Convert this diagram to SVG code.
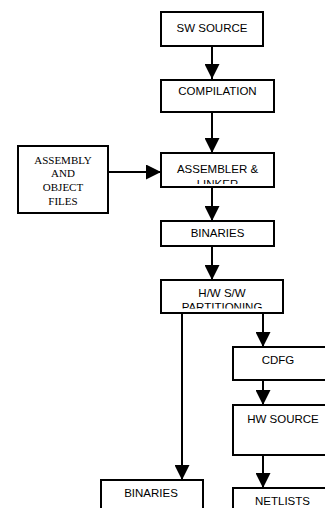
<svg xmlns="http://www.w3.org/2000/svg" width="325" height="508" viewBox="0 0 325 508">
  <style>
    .box { fill: #fff; stroke: #000; stroke-width: 2; }
    .lbl { font-family: "Liberation Sans", Arial, sans-serif; font-size: 11.5px; fill: #000; text-anchor: middle; }
    .serif { font-family: "Liberation Serif", "Times New Roman", serif; font-size: 11px; fill: #000; text-anchor: middle; }
    .wire { fill: none; stroke: #000; stroke-width: 2; }
  </style>
  <defs>
    <marker id="arrow" markerUnits="userSpaceOnUse" markerWidth="15" markerHeight="15" refX="15" refY="7.5" orient="auto">
      <path d="M0,0 L15,7.5 L0,15 z" fill="#000"/>
    </marker>
    <!-- text areas that cut off overflowing second lines -->
    <clipPath id="clipAsm"><rect x="162" y="154" width="111" height="30"/></clipPath>
    <clipPath id="clipPart"><rect x="162" y="281" width="120" height="27.5"/></clipPath>
  </defs>
  <rect width="325" height="508" fill="#fff"/>

  <!-- connectors -->
  <g id="connectors">
    <line class="wire" x1="212" y1="46" x2="212" y2="79" marker-end="url(#arrow)"/>
    <line class="wire" x1="212" y1="112" x2="212" y2="153" marker-end="url(#arrow)"/>
    <line class="wire" x1="108" y1="172" x2="161" y2="172" marker-end="url(#arrow)"/>
    <line class="wire" x1="212" y1="187" x2="212" y2="221" marker-end="url(#arrow)"/>
    <line class="wire" x1="212" y1="246" x2="212" y2="280" marker-end="url(#arrow)"/>
    <line class="wire" x1="182" y1="313" x2="182" y2="480" marker-end="url(#arrow)"/>
    <line class="wire" x1="263" y1="313" x2="263" y2="347" marker-end="url(#arrow)"/>
    <line class="wire" x1="263" y1="380" x2="263" y2="405" marker-end="url(#arrow)"/>
    <line class="wire" x1="263" y1="455" x2="263" y2="488" marker-end="url(#arrow)"/>
  </g>

  <g id="sw-source">
    <rect class="box" x="161" y="12" width="102" height="34"/>
    <text class="lbl" x="212" y="32">SW SOURCE</text>
  </g>

  <g id="compilation">
    <rect class="box" x="161" y="80" width="113" height="32"/>
    <text class="lbl" x="217.5" y="95">COMPILATION</text>
  </g>

  <g id="assembly-files">
    <rect class="box" x="18" y="146" width="90" height="67"/>
    <text class="serif" x="63" y="163.5">ASSEMBLY</text>
    <text class="serif" x="63" y="177.3">AND</text>
    <text class="serif" x="63" y="191.1">OBJECT</text>
    <text class="serif" x="63" y="204.9">FILES</text>
  </g>

  <g id="assembler-linker">
    <rect class="box" x="161" y="153" width="113" height="34"/>
    <g clip-path="url(#clipAsm)">
      <text class="lbl" x="217.5" y="173">ASSEMBLER &amp;</text>
      <text class="lbl" x="217.5" y="187.5">LINKER</text>
    </g>
  </g>

  <g id="binaries">
    <rect class="box" x="161" y="221" width="113" height="25"/>
    <text class="lbl" x="217.5" y="237">BINARIES</text>
  </g>

  <g id="partitioning">
    <rect class="box" x="161" y="280" width="122" height="33"/>
    <g clip-path="url(#clipPart)">
      <text class="lbl" x="222" y="297">H/W S/W</text>
      <text class="lbl" x="222" y="310.5">PARTITIONING</text>
    </g>
  </g>

  <g id="cdfg">
    <rect class="box" x="233" y="347" width="100" height="33"/>
    <text class="lbl" x="278" y="364">CDFG</text>
  </g>

  <g id="hw-source">
    <rect class="box" x="233" y="405" width="100" height="50"/>
    <text class="lbl" x="283" y="423">HW SOURCE</text>
  </g>

  <g id="netlists">
    <rect class="box" x="233" y="488" width="100" height="30"/>
    <text class="lbl" x="282.5" y="505">NETLISTS</text>
  </g>

  <g id="binaries-sw">
    <rect class="box" x="101" y="480" width="102" height="38"/>
    <text class="lbl" x="151" y="497">BINARIES</text>
  </g>
</svg>
